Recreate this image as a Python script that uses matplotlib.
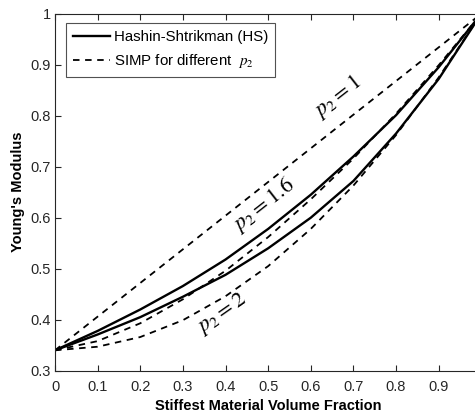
import numpy as np
import matplotlib
matplotlib.use("Agg")
import matplotlib.pyplot as plt

# values
vf = [0.0, 0.1, 0.2, 0.3, 0.4, 0.5, 0.6, 0.7, 0.8, 0.9, 1.0]
hs_upper = [0.340, 0.378, 0.420, 0.466, 0.518, 0.578, 0.645, 0.720, 0.801, 0.895, 1.0]
hs_lower = [0.340, 0.371, 0.405, 0.445, 0.488, 0.540, 0.600, 0.672, 0.765, 0.872, 1.0]
simp_p1 = [0.340, 0.406, 0.472, 0.538, 0.604, 0.670, 0.736, 0.802, 0.868, 0.934, 1.0]
simp_p16 = [0.340, 0.358, 0.393, 0.440, 0.496, 0.562, 0.636, 0.716, 0.804, 0.899, 1.0]
simp_p2 = [0.340, 0.347, 0.366, 0.399, 0.446, 0.505, 0.578, 0.663, 0.762, 0.875, 1.0]

xticks = [0, 0.1, 0.2, 0.3, 0.4, 0.5, 0.6, 0.7, 0.8, 0.9]
xticklabels = ["0", "0.1", "0.2", "0.3", "0.4", "0.5", "0.6", "0.7", "0.8", "0.9"]
yticks = [0.3, 0.4, 0.5, 0.6, 0.7, 0.8, 0.9, 1.0]
yticklabels = ["0.3", "0.4", "0.5", "0.6", "0.7", "0.8", "0.9", "1"]

plt.rcParams["font.family"] = ["Liberation Sans", "DejaVu Sans"]
plt.rcParams["mathtext.fontset"] = "stix"

fig = plt.figure(figsize=(4.75, 4.2), dpi=100)
ax = fig.add_axes([55 / 475, 49.3 / 420, 426.3 / 475, 357 / 420])

dash = (0, (3.6, 3.1))
ax.plot(vf, hs_upper, color="k", lw=1.7, label="Hashin-Shtrikman (HS)")
ax.plot(vf, hs_lower, color="k", lw=1.7)
ax.plot(vf, simp_p1, color="k", lw=1.3, linestyle=dash, label="SIMP for different  $p_2$")
ax.plot(vf, simp_p16, color="k", lw=1.3, linestyle=dash)
ax.plot(vf, simp_p2, color="k", lw=1.3, linestyle=dash)

ax.text(0.664, 0.837, r"$p_2 = 1$", fontsize=16, rotation=38, ha="center", va="center")
ax.text(0.49, 0.625, r"$p_2 = 1.6$", fontsize=16, rotation=38, ha="center", va="center")
ax.text(0.392, 0.413, r"$p_2 = 2$", fontsize=16, rotation=35, ha="center", va="center")

ax.set_xlim(0, 1)
ax.set_ylim(0.3, 1)
ax.set_xticks(xticks)
ax.set_xticklabels(xticklabels)
ax.set_yticks(yticks)
ax.set_yticklabels(yticklabels)
ax.tick_params(direction="in", length=4, width=0.8, colors="#262626", labelsize=10.5,
               top=True, right=True)
ax.tick_params(axis="x", pad=7)
ax.tick_params(axis="y", pad=3)
for s in ax.spines.values():
    s.set_color("#262626")
    s.set_linewidth(0.8)

ax.set_xlabel("Stiffest Material Volume Fraction", fontsize=10.5, fontweight="bold", labelpad=3)
ax.set_ylabel("Young's Modulus", fontsize=10.5, fontweight="bold", labelpad=4)

leg = ax.legend(loc="upper left", bbox_to_anchor=(0.026, 0.973), fontsize=10.8,
                frameon=True, fancybox=False, handlelength=2.5, handletextpad=0.25,
                borderpad=0.45, labelspacing=0.55, borderaxespad=0)
leg.get_frame().set_edgecolor("#262626")
leg.get_frame().set_linewidth(0.8)

fig.savefig("out.png", dpi=100)
